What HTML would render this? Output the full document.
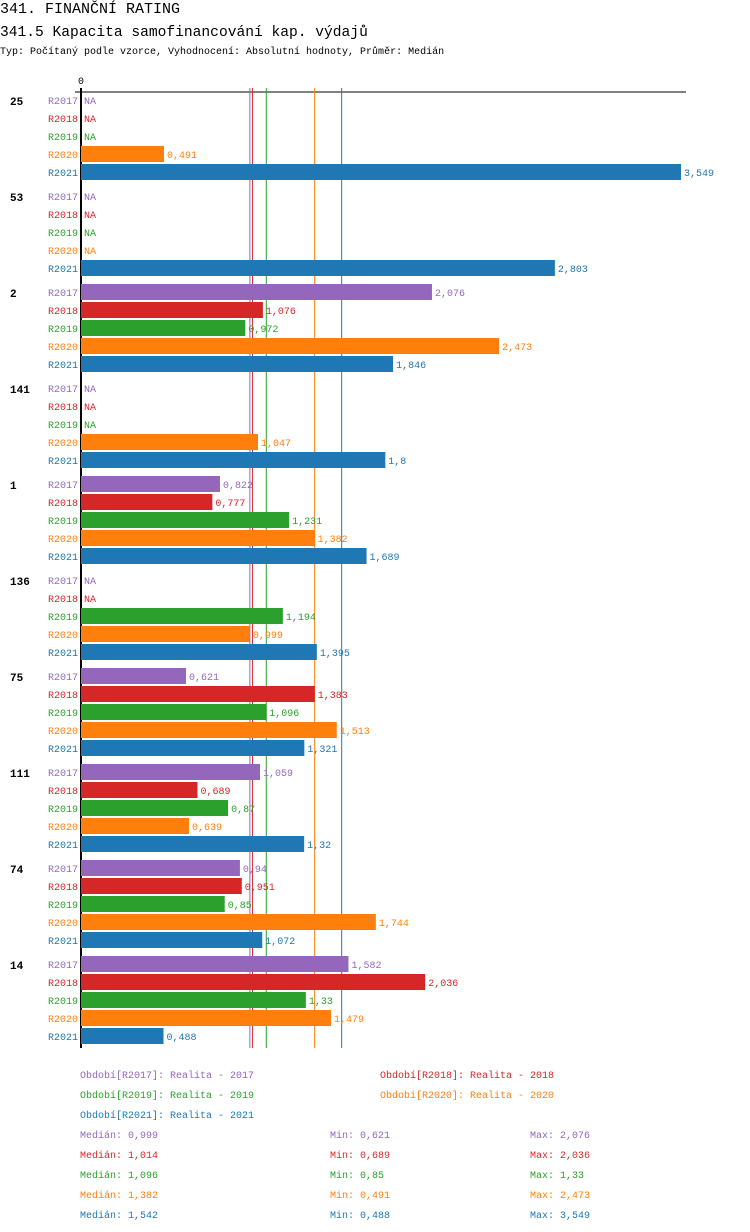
<!DOCTYPE html>
<html><head><meta charset="utf-8"><style>
body{margin:0;background:#fff;}
svg{display:block;font-family:"Liberation Mono","DejaVu Sans Mono",monospace;}
</style></head><body>
<svg id="c" width="750" height="1232" xmlns="http://www.w3.org/2000/svg">
<text x="0" y="13" font-size="15">341. FINANČNÍ RATING</text>
<text x="0" y="36" font-size="14.6">341.5 Kapacita samofinancování kap. výdajů</text>
<text x="0" y="54" font-size="10">Typ: Počítaný podle vzorce, Vyhodnocení: Absolutní hodnoty, Průměr: Medián</text>
<g id="lines"></g><g id="bars"></g><g id="legend"></g>
</svg>
<script>
const groups=["25","53","2","141","1","136","75","111","74","14"];
const series=["R2017","R2018","R2019","R2020","R2021"];
const colors=["#9467bd","#d62728","#2ca02c","#ff7f0e","#1f77b4"];
const v2017=[null,null,2.076,null,0.822,null,0.621,1.059,0.94,1.582];
const v2018=[null,null,1.076,null,0.777,null,1.383,0.689,0.951,2.036];
const v2019=[null,null,0.972,null,1.231,1.194,1.096,0.87,0.85,1.33];
const v2020=[0.491,null,2.473,1.047,1.382,0.999,1.513,0.639,1.744,1.479];
const v2021=[3.549,2.803,1.846,1.8,1.689,1.395,1.321,1.32,1.072,0.488];
const medians=[0.999,1.014,1.096,1.382,1.542];
const mins=[0.621,0.689,0.85,0.491,0.488];
const maxs=[2.076,2.036,1.33,2.473,3.549];
const legendNames=["Realita - 2017","Realita - 2018","Realita - 2019","Realita - 2020","Realita - 2021"];
const vals=[v2017,v2018,v2019,v2020,v2021];
const NS="http://www.w3.org/2000/svg";
const x0=81, scale=600/3.549, topY=92, rowH=18, grpH=96;
const X=v=>x0+v*scale;
const fmt=v=>String(v).replace('.',',');
function mk(tag,attrs,parent,txt){const e=document.createElementNS(NS,tag);for(const k in attrs)e.setAttribute(k,attrs[k]);if(txt!==undefined)e.textContent=txt;parent.appendChild(e);return e;}
const L=document.getElementById('lines'),B=document.getElementById('bars'),G=document.getElementById('legend');
const endY=topY+groups.length*grpH;
let e=mk('text',{x:x0-3,y:84,'font-size':10},L,'0');


e=mk('line',{x1:75,y1:topY,x2:686,y2:topY,stroke:'#000','stroke-width':1},L);


medians.forEach((m,i)=>{const l=mk('line',{x1:X(m),y1:88,x2:X(m),y2:endY-4,stroke:colors[i],'stroke-width':1},L);

});
groups.forEach((g,gi)=>{
 const gy=topY+gi*grpH;
 const t=mk('text',{x:10,y:gy+13,'font-size':11,'font-weight':'bold'},B,g);
 
 
 series.forEach((s,si)=>{
  const y=gy+si*rowH, v=vals[si][gi];
  const sl=mk('text',{x:78,y:y+12,'font-size':10,fill:colors[si],'text-anchor':'end'},B,s);
  
  
  if(v===null){const n=mk('text',{x:84,y:y+12,'font-size':10,fill:colors[si]},B,'NA');
   
   return;}
  const r=mk('rect',{x:x0,y:y,width:X(v)-x0,height:16,fill:colors[si]},B);
  
  
  const vl=mk('text',{x:X(v)+3,y:y+12,'font-size':10,fill:colors[si]},B,fmt(v));
  
  
 });
});
e=mk('line',{x1:x0,y1:88,x2:x0,y2:endY-4,stroke:'#000','stroke-width':2},L);


const lp=[[80,1078],[380,1078],[80,1098],[380,1098],[80,1118]];
series.forEach((s,i)=>{const t=mk('text',{x:lp[i][0],y:lp[i][1],'font-size':10,fill:colors[i]},G,'Období['+s+']: '+legendNames[i]);
 
 
 const y=1138+i*20;
 const a=mk('text',{x:80,y:y,'font-size':10,fill:colors[i]},G,'Medián: '+fmt(medians[i]));
 
 
 const b=mk('text',{x:330,y:y,'font-size':10,fill:colors[i]},G,'Min: '+fmt(mins[i]));
 
 
 const c=mk('text',{x:530,y:y,'font-size':10,fill:colors[i]},G,'Max: '+fmt(maxs[i]));
 
 
});
</script>
</body></html>
